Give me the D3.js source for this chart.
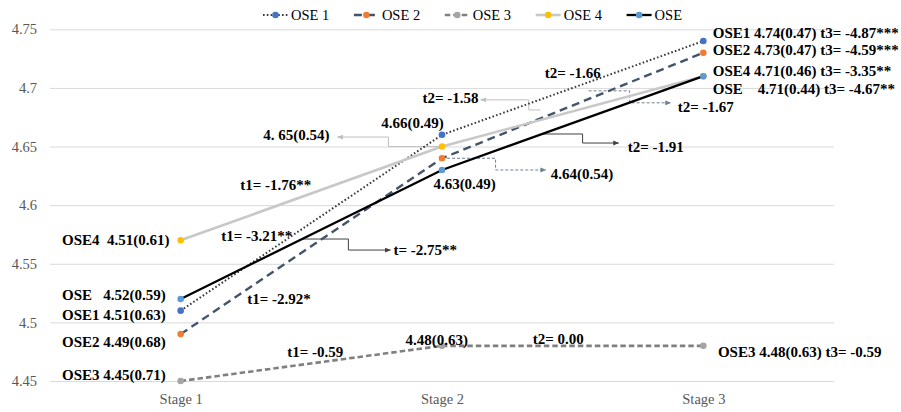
<!DOCTYPE html>
<html><head><meta charset="utf-8">
<script src="https://cdn.jsdelivr.net/npm/d3@7"></script>
<style>
body{margin:0;background:#fff}
text{font-family:"Liberation Serif","Times New Roman",serif}
</style>
</head><body>
<svg id="c" width="901" height="412"></svg>
<script>
// ---- data ----
const categories = ["Stage 1", "Stage 2", "Stage 3"];
const seriesNames = ["OSE 1", "OSE 2", "OSE 3", "OSE 4", "OSE"];
const ose1 = [4.51, 4.66, 4.74];
const ose2 = [4.49, 4.64, 4.73];
const ose3 = [4.45, 4.48, 4.48];
const ose4 = [4.57, 4.65, 4.71];
const ose  = [4.52, 4.63, 4.71];
const yTicks = [4.45, 4.5, 4.55, 4.6, 4.65, 4.7, 4.75];
const yTickLabels = ["4.45", "4.5", "4.55", "4.6", "4.65", "4.7", "4.75"];

// ---- styles ----
const styles = [
  {stroke: "#3a3a3a", width: 2,    dash: "1.6,2.2", marker: "#4472C4"},
  {stroke: "#44546A", width: 2.4,  dash: "8,5",     marker: "#ED7D31"},
  {stroke: "#808080", width: 2.6,  dash: "5.5,3",   marker: "#A5A5A5"},
  {stroke: "#C8C8C8", width: 2.6,  dash: null,      marker: "#FFC000"},
  {stroke: "#000000", width: 2.3,  dash: null,      marker: "#5B9BD5"}
];
const seriesValues = [ose1, ose2, ose3, ose4, ose];

// annotation texts, positioned in data space (xi = stage index, v = value)
const labels = [
  {t: "OSE1 4.74(0.47) t3= -4.87***", xi: 2.036, v: 4.7469},
  {t: "OSE2 4.73(0.47) t3= -4.59***", xi: 2.036, v: 4.7324},
  {t: "OSE4 4.71(0.46) t3= -3.35**",  xi: 2.036, v: 4.7145},
  {t: "OSE    4.71(0.44) t3= -4.67**", xi: 2.036, v: 4.6992},
  {t: "OSE3 4.48(0.63) t3= -0.59",    xi: 2.056, v: 4.4747},
  {t: "OSE4  4.51(0.61)", xi: -0.454, v: 4.5703},
  {t: "OSE   4.52(0.59)", xi: -0.454, v: 4.5234},
  {t: "OSE1 4.51(0.63)",  xi: -0.454, v: 4.5063},
  {t: "OSE2 4.49(0.68)",  xi: -0.454, v: 4.4833},
  {t: "OSE3 4.45(0.71)",  xi: -0.454, v: 4.4551},
  {t: "t1= -1.76**", xi: 0.228, v: 4.6171},
  {t: "t1= -3.21**", xi: 0.155, v: 4.5735},
  {t: "t1= -2.92*",  xi: 0.255, v: 4.5200},
  {t: "t1= -0.59",   xi: 0.408, v: 4.4747},
  {t: "4.48(0.63)",  xi: 0.860, v: 4.4850},
  {t: "t2= 0.00",    xi: 1.347, v: 4.4858},
  {t: "4.66(0.49)",  xi: 0.768, v: 4.6700},
  {t: "4.63(0.49)",  xi: 0.967, v: 4.6180},
  {t: "4. 65(0.54)", xi: 0.316, v: 4.6598},
  {t: "t2= -1.58",   xi: 0.925, v: 4.6915},
  {t: "t2= -1.66",   xi: 1.393, v: 4.7127},
  {t: "t2= -1.67",   xi: 1.902, v: 4.6839},
  {t: "4.64(0.54)",  xi: 1.416, v: 4.6266},
  {t: "t2= -1.91",   xi: 1.711, v: 4.6496},
  {t: "t= -2.75**",  xi: 0.814, v: 4.5617}
];

// elbow connectors with arrow heads (data space)
const connectors = [
  {pts: [[1.0, 4.65], [0.795, 4.65], [0.795, 4.6581], [0.600, 4.6581]], color: "#BFBFBF", dash: null},
  {pts: [[1.377, 4.6812], [1.332, 4.6812], [1.332, 4.6898], [1.148, 4.6898]], color: "#BFBFBF", dash: null},
  {pts: [[1.561, 4.6975], [1.718, 4.6975], [1.718, 4.6873], [1.875, 4.6873]], color: "#6F7F95", dash: "3,2"},
  {pts: [[1.0, 4.64], [1.205, 4.64], [1.205, 4.63], [1.397, 4.63]], color: "#6F7F95", dash: "3,2"},
  {pts: [[1.385, 4.6607], [1.538, 4.6607], [1.538, 4.653], [1.676, 4.653]], color: "#404040", dash: null},
  {pts: [[0.4655, 4.5711], [0.6418, 4.5711], [0.6418, 4.5617], [0.8027, 4.5617]], color: "#404040", dash: null}
];

// ---- drawing ----
const svg = d3.select("#c");
const plotLeft = 50, plotRight = 834, plotTop = 29.3, plotBottom = 381;
const x = d3.scalePoint().domain(categories).range([plotLeft, plotRight]).padding(0.5);
const xi = d3.scaleLinear().domain([0, categories.length - 1])
  .range([x(categories[0]), x(categories[categories.length - 1])]);
const y = d3.scaleLinear().domain([4.45, 4.75]).range([plotBottom, plotTop]);

// y axis with gridlines
const yAxis = d3.axisLeft(y).tickValues(yTicks)
  .tickFormat((d, i) => yTickLabels[i])
  .tickSize(-(plotRight - plotLeft)).tickPadding(13);
const gy = svg.append("g").attr("transform", `translate(${plotLeft},0)`).call(yAxis);
gy.select(".domain").remove();
gy.selectAll(".tick line").attr("stroke", "#D9D9D9").attr("stroke-width", 1);
gy.selectAll(".tick text").attr("fill", "#595959").attr("font-size", 14.5)
  .attr("font-family", "Liberation Serif");

// x axis
const xAxis = d3.axisBottom(x).tickSize(0).tickPadding(13);
const gx = svg.append("g").attr("transform", `translate(0,${plotBottom})`).call(xAxis);
gx.select(".domain").remove();
gx.selectAll(".tick text").attr("fill", "#595959").attr("font-size", 14.5)
  .attr("font-family", "Liberation Serif");

// arrow markers
const defs = svg.append("defs");
const arrowColors = Array.from(new Set(connectors.map(c => c.color)));
arrowColors.forEach((c, i) => {
  defs.append("marker").attr("id", "ah" + i)
    .attr("viewBox", "0 0 10 10").attr("refX", 9).attr("refY", 5)
    .attr("markerWidth", 6).attr("markerHeight", 6)
    .attr("markerUnits", "userSpaceOnUse").attr("orient", "auto")
    .append("path").attr("d", "M0,1 L10,5 L0,9 Z").attr("fill", c);
});

// connectors
const cl = d3.line().x(p => xi(p[0])).y(p => y(p[1]));
svg.append("g").selectAll("path").data(connectors).join("path")
  .attr("d", c => cl(c.pts))
  .attr("fill", "none")
  .attr("stroke", c => c.color)
  .attr("stroke-width", 1)
  .attr("stroke-dasharray", c => c.dash)
  .attr("marker-end", c => `url(#ah${arrowColors.indexOf(c.color)})`);

// series lines and markers
const line = d3.line().x((d, i) => x(categories[i])).y(d => y(d));
const gs = svg.append("g");
seriesValues.forEach((vals, s) => {
  const st = styles[s];
  gs.append("path").datum(vals).attr("d", line)
    .attr("fill", "none").attr("stroke", st.stroke)
    .attr("stroke-width", st.width)
    .attr("stroke-dasharray", st.dash);
  gs.append("g").selectAll("circle").data(vals).join("circle")
    .attr("cx", (d, i) => x(categories[i])).attr("cy", d => y(d))
    .attr("r", 3.3).attr("fill", st.marker);
});

// labels
svg.append("g").selectAll("text").data(labels).join("text")
  .attr("x", d => xi(d.xi)).attr("y", d => y(d.v)).attr("dy", "0.35em")
  .attr("font-size", 15).attr("font-weight", "bold").attr("fill", "#000")
  .style("white-space", "pre")
  .text(d => d.t);

// legend
const lg = svg.append("g").attr("transform", "translate(0,15)");
const lineLen = 25, legStart = 263, legEnd = 682;
const legItems = seriesNames.map((n, s) => {
  const st = styles[s];
  const g = lg.append("g");
  g.append("line").attr("x1", 0).attr("x2", lineLen).attr("y1", 0).attr("y2", 0)
    .attr("stroke", st.stroke).attr("stroke-width", st.width)
    .attr("stroke-dasharray", st.dash);
  g.append("circle").attr("cx", lineLen / 2).attr("cy", 0).attr("r", 3.3).attr("fill", st.marker);
  const t = g.append("text").attr("x", lineLen + 3).attr("dy", "0.35em")
    .attr("font-size", 14.5).attr("fill", "#000").text(n);
  return {g, w: lineLen + 3 + t.node().getComputedTextLength()};
});
const totalW = d3.sum(legItems, d => d.w);
const gap = (legEnd - legStart - totalW) / (legItems.length - 1);
let lx = legStart;
legItems.forEach(it => { it.g.attr("transform", `translate(${lx},0)`); lx += it.w + gap; });
</script>
</body></html>
